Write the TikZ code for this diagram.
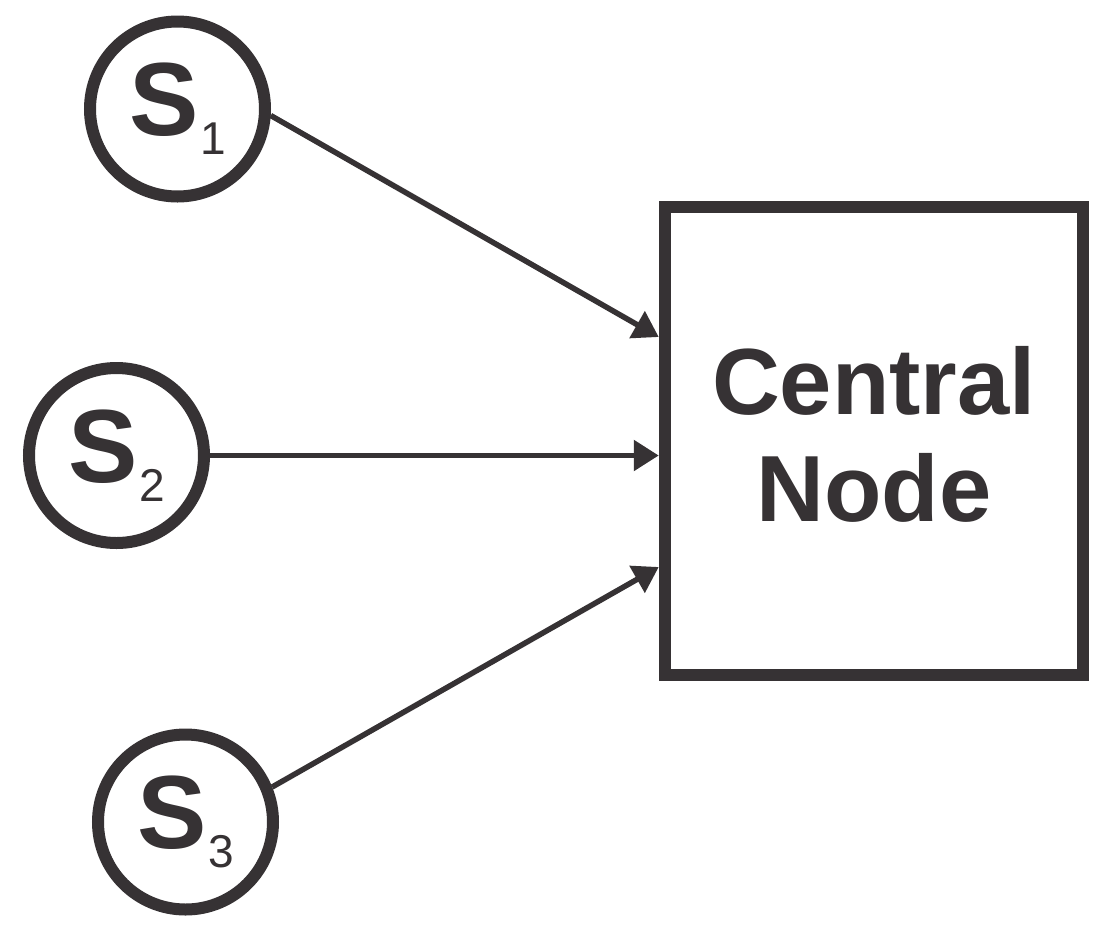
\documentclass[tikz,border=0pt]{standalone}
\usepackage{fontspec}
\setmainfont{Liberation Sans}
\usetikzlibrary{arrows.meta,calc}
\definecolor{ink}{RGB}{54,50,52}
\newcommand\srctext[1]{{\fontsize{104}{104}\selectfont\bfseries S}\kern2pt\raisebox{-19pt}{\fontsize{46}{46}\selectfont #1}}
\begin{document}
\begin{tikzpicture}[x=1pt,y=-1pt,
  src/.style={circle,draw=ink,line width=12pt,minimum size=175pt,inner sep=0pt,text=ink},
  hub/.style={rectangle,draw=ink,line width=12.5pt,minimum width=418pt,minimum height=468pt,inner sep=0pt,align=center,text=ink,font=\fontsize{94}{107}\selectfont\bfseries,text depth=14pt},
  link/.style={draw=ink,line width=5.5pt,-{Triangle[length=25pt,width=30pt]}}]
\fill[white] (0,0) rectangle (1103,927);
\useasboundingbox (0,0) rectangle (1103,927);
\node[src] (s1) at (177.5,109) {\srctext{1}};
\node[src] (s2) at (116.5,455.5) {\srctext{2}};
\node[src] (s3) at (185.5,822) {\srctext{3}};
\node[hub] (hub) at (874,441) {Central\\Node};
\draw[link] (s1.-4) -- ([yshift=104pt]hub.west);
\draw[link] (s2.east) -- (s2.east -| hub.west);
\draw[link] (s3.22) -- ([yshift=-126pt]hub.west);
\end{tikzpicture}
\end{document}
